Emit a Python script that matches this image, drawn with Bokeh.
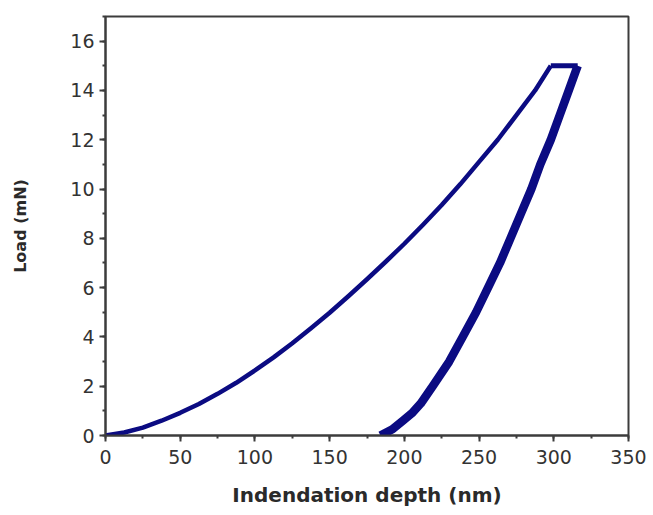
from bokeh.plotting import figure
from bokeh.models import SingleIntervalTicker, Range1d
from bokeh.embed import file_html
from bokeh.resources import INLINE

# Loading segment (depth nm, load mN)
load_depth = [0, 12.5, 25, 37.5, 50, 62.5, 75, 87.5, 100, 112.5, 125, 137.5, 150,
              162.5, 175, 187.5, 200, 212.5, 225, 237.5, 250, 262.5, 275, 287.5, 298]
load_load = [0, 0.12, 0.32, 0.6, 0.92, 1.28, 1.69, 2.14, 2.64, 3.17, 3.74, 4.35, 4.98,
             5.65, 6.34, 7.05, 7.78, 8.55, 9.35, 10.2, 11.1, 12.0, 13.0, 14.0, 15.0]

# Hold segment at peak load
hold_depth = [298, 316]
hold_load = [15.0, 15.0]

# Unloading segment
unload_depth = [316, 310, 304, 298, 291, 285, 278, 271, 264, 256, 248, 239, 230,
                219, 211, 205, 199, 192, 184]
unload_load = [15.0, 14.0, 13.0, 12.0, 11.0, 10.0, 9.0, 8.0, 7.0, 6.0, 5.0, 4.0, 3.0,
               2.0, 1.3, 0.9, 0.6, 0.25, 0.0]

x_ticks_interval = 50
y_ticks_interval = 2

NAVY = "#0b0b82"
AXIS = "#3c3c3c"

p = figure(width=653, height=515, output_backend="svg", toolbar_location=None,
           x_range=Range1d(0, 350), y_range=Range1d(0, 17),
           min_border_left=105, min_border_right=25, min_border_top=16,
           min_border_bottom=80)

p.line(load_depth, load_load, line_color=NAVY, line_width=4.5, line_join="round")
p.line(hold_depth, hold_load, line_color=NAVY, line_width=5)
p.line(unload_depth, unload_load, line_color=NAVY, line_width=8.5, line_join="round")

p.grid.visible = False
p.outline_line_color = AXIS
p.outline_line_width = 2
p.background_fill_color = "white"
p.border_fill_color = "white"

p.xaxis.ticker = SingleIntervalTicker(interval=x_ticks_interval, num_minor_ticks=2)
p.yaxis.ticker = SingleIntervalTicker(interval=y_ticks_interval, num_minor_ticks=2)

for ax in (p.xaxis[0], p.yaxis[0]):
    ax.axis_line_color = AXIS
    ax.axis_line_width = 2
    ax.major_tick_line_color = AXIS
    ax.major_tick_line_width = 2
    ax.minor_tick_line_color = AXIS
    ax.minor_tick_line_width = 2
    ax.major_tick_in = 0
    ax.major_tick_out = 6
    ax.minor_tick_in = 0
    ax.minor_tick_out = 3
    ax.major_label_text_font = "DejaVu Sans"
    ax.major_label_text_font_size = "19px"
    ax.major_label_text_color = "#333333"
    ax.axis_label_text_font = "DejaVu Sans"
    ax.axis_label_text_font_style = "bold"
    ax.axis_label_text_color = "#2a2a2a"

p.xaxis.axis_label = "Indendation depth (nm)"
p.yaxis.axis_label = "Load (mN)"
p.xaxis.axis_label_text_font_size = "20px"
p.yaxis.axis_label_text_font_size = "16px"
p.xaxis.major_label_standoff = 8
p.yaxis.major_label_standoff = 5
p.xaxis.axis_label_standoff = 16
p.yaxis.axis_label_standoff = 37

open("out.html", "w").write(file_html(p, INLINE))
